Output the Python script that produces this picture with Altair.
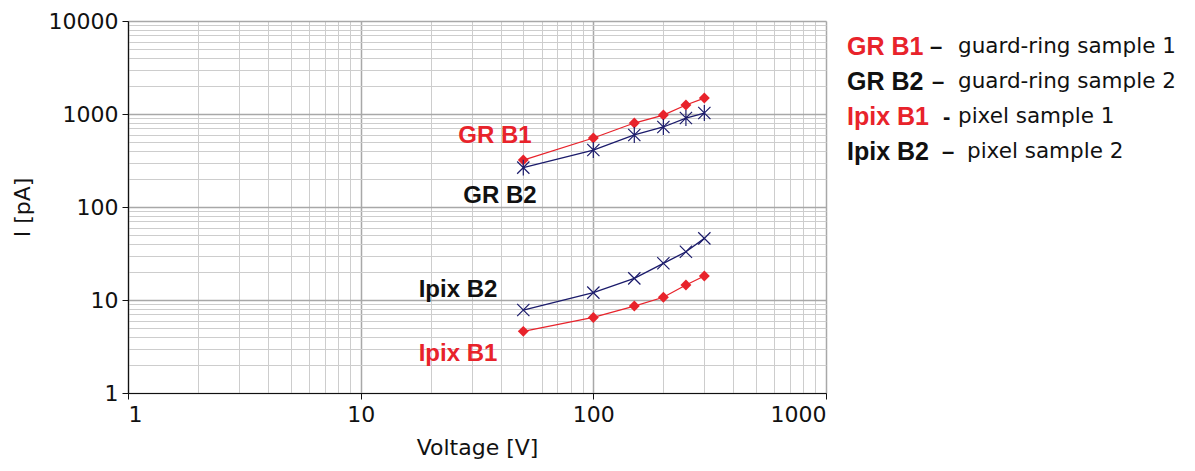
import altair as alt
import pandas as pd

# ---- data ----
voltage = [50, 100, 150, 200, 250, 300]
gr_b1 = [320, 552, 800, 975, 1250, 1485]
gr_b2 = [265, 410, 595, 725, 905, 1025]
ipix_b1 = [4.6, 6.5, 8.6, 10.7, 14.5, 18.1]
ipix_b2 = [7.8, 12.0, 17.1, 24.8, 33.0, 46.0]

series_names = ["GR B1", "GR B2", "Ipix B1", "Ipix B2"]
series_colors = ["#e8232b", "#1b1b6b", "#e8232b", "#1b1b6b"]

label_names = ["GR B1", "GR B2", "Ipix B2", "Ipix B1"]
label_x = [37.8, 39.7, 26.2, 26.2]
label_y = [580, 131, 12.8, 2.63]
label_colors = ["#e8232b", "#111111", "#111111", "#e8232b"]

legend_keys = ["GR B1", "GR B2", "Ipix B1", "Ipix B2"]
legend_key_colors = ["#e8232b", "#111111", "#e8232b", "#111111"]
legend_dash = ["–", "–", "-", "–"]
legend_desc = ["guard-ring sample 1", "guard-ring sample 2",
               "pixel sample 1", "pixel sample 2"]

x_ticks = [m * 10 ** e for e in range(0, 3) for m in range(1, 10)] + [1000]
y_ticks = [m * 10 ** e for e in range(0, 4) for m in range(1, 10)] + [10000]

rows = []
for name, vals in zip(series_names, [gr_b1, gr_b2, ipix_b1, ipix_b2]):
    for v, i in zip(voltage, vals):
        rows.append({"series": name, "V": v, "I": i})
df = pd.DataFrame(rows)

W, H = 698, 372
major = "indexof([1,10,100,1000,10000], datum.value) >= 0"

xscale = alt.Scale(type="log", domain=[1, 1000], nice=False)
yscale = alt.Scale(type="log", domain=[1, 10000], nice=False)

AXFONT = "DejaVu Sans"
BOLD = "Liberation Sans"

common_axis = dict(
    format="d",
    labelExpr=f"{major} ? datum.label : ''",
    titleFont=AXFONT, titleFontWeight="normal", titleColor="#111",
    labelFont=AXFONT, labelColor="#111",
    grid=True,
    gridColor={"condition": {"test": major, "value": "#a8a8a8"}, "value": "#cdcdcd"},
    gridWidth={"condition": {"test": major, "value": 1.5}, "value": 1},
    tickColor="#111", tickSize=6,
    tickOpacity={"condition": {"test": major, "value": 1}, "value": 0},
    domainColor="#111", domainWidth=1.2,
)
x_axis = alt.Axis(values=x_ticks, title="Voltage [V]", titleFontSize=22,
                  titlePadding=12, labelFontSize=22, labelPadding=5, **common_axis)
y_axis = alt.Axis(values=y_ticks, title="I [pA]", titleFontSize=22,
                  titlePadding=14, labelFontSize=22, labelPadding=4, **common_axis)

color_scale = alt.Scale(domain=series_names, range=series_colors)

base = alt.Chart(df).encode(
    x=alt.X("V:Q", scale=xscale, axis=x_axis),
    y=alt.Y("I:Q", scale=yscale, axis=y_axis),
    color=alt.Color("series:N", scale=color_scale, legend=None),
)

lines = base.mark_line(strokeWidth=1.3).encode(detail="series:N")

diamonds = base.transform_filter(
    alt.FieldOneOfPredicate(field="series", oneOf=["GR B1", "Ipix B1"])
).mark_point(shape="diamond", filled=True, size=120, opacity=1)

star_path = "M-1,-1L1,1M-1,1L1,-1M0,-1.3L0,1.3"
x_path = "M-1,-1L1,1M-1,1L1,-1"
crosses = base.transform_filter(
    alt.FieldOneOfPredicate(field="series", oneOf=["GR B2", "Ipix B2"])
).mark_point(filled=False, size=150, strokeWidth=1.2, opacity=1).encode(
    shape=alt.Shape("series:N", scale=alt.Scale(domain=["GR B2", "Ipix B2"],
                                                  range=[star_path, x_path]),
                    legend=None)
)

lab_df = pd.DataFrame({"name": label_names, "lx": label_x, "ly": label_y,
                       "c": label_colors})
labels = alt.Chart(lab_df).mark_text(
    font=BOLD, fontWeight="bold", fontSize=24, baseline="middle", align="center",
).encode(
    x=alt.X("lx:Q", scale=xscale), y=alt.Y("ly:Q", scale=yscale),
    text="name:N", color=alt.Color("c:N", scale=None),
)

legend_layers = []
row_y = [26, 61, 96, 131]
dash_x = [802, 804, 815, 814]
desc_x = [830, 830, 830, 839]
for k, kc, dsh, d, yy, ddx, dx in zip(legend_keys, legend_key_colors, legend_dash,
                                      legend_desc, row_y, dash_x, desc_x):
    legend_layers.append(
        alt.Chart(pd.DataFrame({"t": [k]})).mark_text(
            font=BOLD, fontWeight="bold", fontSize=25, align="left",
            baseline="middle", color=kc,
        ).encode(x=alt.value(719), y=alt.value(yy), text="t:N")
    )
    legend_layers.append(
        alt.Chart(pd.DataFrame({"t": [dsh]})).mark_text(
            font=BOLD, fontWeight="bold", fontSize=22, align="left",
            baseline="middle", color="#111",
        ).encode(x=alt.value(ddx), y=alt.value(yy), text="t:N")
    )
    legend_layers.append(
        alt.Chart(pd.DataFrame({"t": [d]})).mark_text(
            font=AXFONT, fontSize=21.5, align="left", baseline="middle", color="#111",
        ).encode(x=alt.value(dx), y=alt.value(yy), text="t:N")
    )

chart = alt.layer(lines, diamonds, crosses, labels, *legend_layers).properties(
    width=W, height=H,
    autosize=alt.AutoSizeParams(type="none"),
    padding={"left": 120, "top": 13, "right": 355, "bottom": 70},
).configure_view(stroke=None).configure(background="white")

chart.save("out.html", embed_options={"renderer": "svg", "actions": False})
